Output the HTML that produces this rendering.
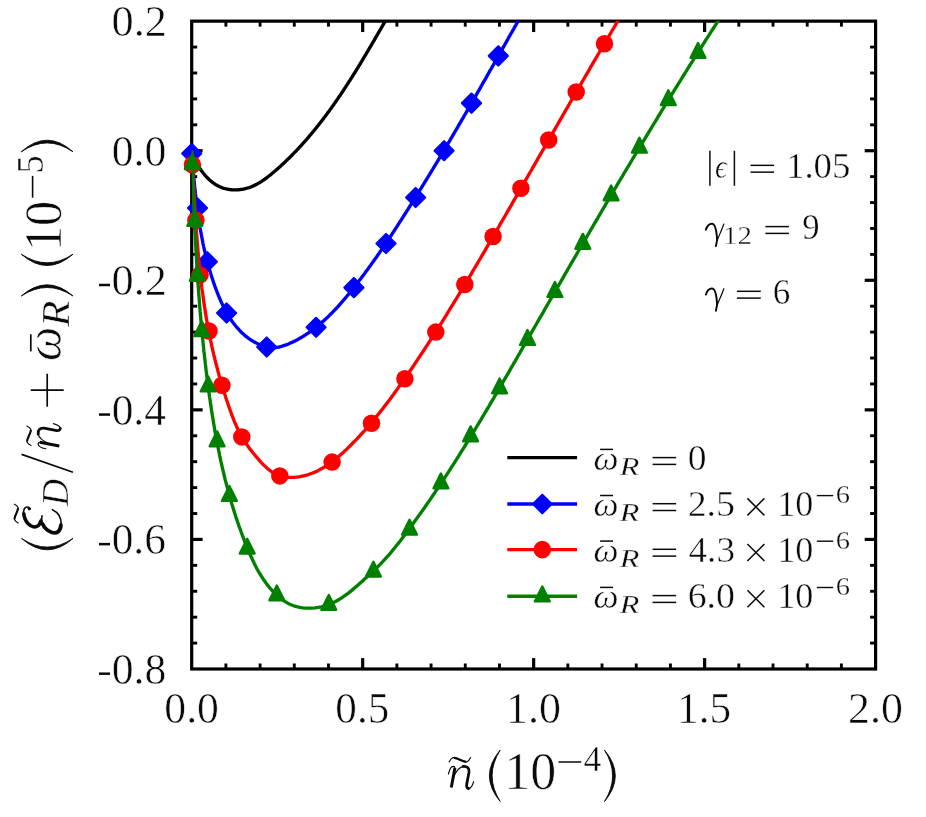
<!DOCTYPE html>
<html><head><meta charset="utf-8"><title>plot</title>
<style>
html,body{margin:0;padding:0;background:#fff;}
svg{display:block;}
text{font-family:"Liberation Serif",serif;}
svg{will-change:transform;}
</style></head>
<body>
<svg width="926" height="817" viewBox="0 0 926 817">
<rect x="0" y="0" width="926" height="817" fill="#ffffff"/>
<defs><clipPath id="ax"><rect x="191.7" y="20.75" width="683.9000000000001" height="648.25"/></clipPath></defs>
<line x1="225.89" y1="669.00" x2="225.89" y2="663.50" stroke="#000" stroke-width="2.9" stroke-linecap="butt"/>
<line x1="225.89" y1="21.15" x2="225.89" y2="26.65" stroke="#000" stroke-width="2.9" stroke-linecap="butt"/>
<line x1="260.09" y1="669.00" x2="260.09" y2="663.50" stroke="#000" stroke-width="2.9" stroke-linecap="butt"/>
<line x1="260.09" y1="21.15" x2="260.09" y2="26.65" stroke="#000" stroke-width="2.9" stroke-linecap="butt"/>
<line x1="294.29" y1="669.00" x2="294.29" y2="663.50" stroke="#000" stroke-width="2.9" stroke-linecap="butt"/>
<line x1="294.29" y1="21.15" x2="294.29" y2="26.65" stroke="#000" stroke-width="2.9" stroke-linecap="butt"/>
<line x1="328.48" y1="669.00" x2="328.48" y2="663.50" stroke="#000" stroke-width="2.9" stroke-linecap="butt"/>
<line x1="328.48" y1="21.15" x2="328.48" y2="26.65" stroke="#000" stroke-width="2.9" stroke-linecap="butt"/>
<line x1="362.68" y1="669.00" x2="362.68" y2="658.10" stroke="#000" stroke-width="3.2" stroke-linecap="butt"/>
<line x1="362.68" y1="21.15" x2="362.68" y2="32.05" stroke="#000" stroke-width="3.2" stroke-linecap="butt"/>
<line x1="396.87" y1="669.00" x2="396.87" y2="663.50" stroke="#000" stroke-width="2.9" stroke-linecap="butt"/>
<line x1="396.87" y1="21.15" x2="396.87" y2="26.65" stroke="#000" stroke-width="2.9" stroke-linecap="butt"/>
<line x1="431.07" y1="669.00" x2="431.07" y2="663.50" stroke="#000" stroke-width="2.9" stroke-linecap="butt"/>
<line x1="431.07" y1="21.15" x2="431.07" y2="26.65" stroke="#000" stroke-width="2.9" stroke-linecap="butt"/>
<line x1="465.26" y1="669.00" x2="465.26" y2="663.50" stroke="#000" stroke-width="2.9" stroke-linecap="butt"/>
<line x1="465.26" y1="21.15" x2="465.26" y2="26.65" stroke="#000" stroke-width="2.9" stroke-linecap="butt"/>
<line x1="499.46" y1="669.00" x2="499.46" y2="663.50" stroke="#000" stroke-width="2.9" stroke-linecap="butt"/>
<line x1="499.46" y1="21.15" x2="499.46" y2="26.65" stroke="#000" stroke-width="2.9" stroke-linecap="butt"/>
<line x1="533.65" y1="669.00" x2="533.65" y2="658.10" stroke="#000" stroke-width="3.2" stroke-linecap="butt"/>
<line x1="533.65" y1="21.15" x2="533.65" y2="32.05" stroke="#000" stroke-width="3.2" stroke-linecap="butt"/>
<line x1="567.85" y1="669.00" x2="567.85" y2="663.50" stroke="#000" stroke-width="2.9" stroke-linecap="butt"/>
<line x1="567.85" y1="21.15" x2="567.85" y2="26.65" stroke="#000" stroke-width="2.9" stroke-linecap="butt"/>
<line x1="602.04" y1="669.00" x2="602.04" y2="663.50" stroke="#000" stroke-width="2.9" stroke-linecap="butt"/>
<line x1="602.04" y1="21.15" x2="602.04" y2="26.65" stroke="#000" stroke-width="2.9" stroke-linecap="butt"/>
<line x1="636.24" y1="669.00" x2="636.24" y2="663.50" stroke="#000" stroke-width="2.9" stroke-linecap="butt"/>
<line x1="636.24" y1="21.15" x2="636.24" y2="26.65" stroke="#000" stroke-width="2.9" stroke-linecap="butt"/>
<line x1="670.43" y1="669.00" x2="670.43" y2="663.50" stroke="#000" stroke-width="2.9" stroke-linecap="butt"/>
<line x1="670.43" y1="21.15" x2="670.43" y2="26.65" stroke="#000" stroke-width="2.9" stroke-linecap="butt"/>
<line x1="704.62" y1="669.00" x2="704.62" y2="658.10" stroke="#000" stroke-width="3.2" stroke-linecap="butt"/>
<line x1="704.62" y1="21.15" x2="704.62" y2="32.05" stroke="#000" stroke-width="3.2" stroke-linecap="butt"/>
<line x1="738.82" y1="669.00" x2="738.82" y2="663.50" stroke="#000" stroke-width="2.9" stroke-linecap="butt"/>
<line x1="738.82" y1="21.15" x2="738.82" y2="26.65" stroke="#000" stroke-width="2.9" stroke-linecap="butt"/>
<line x1="773.02" y1="669.00" x2="773.02" y2="663.50" stroke="#000" stroke-width="2.9" stroke-linecap="butt"/>
<line x1="773.02" y1="21.15" x2="773.02" y2="26.65" stroke="#000" stroke-width="2.9" stroke-linecap="butt"/>
<line x1="807.21" y1="669.00" x2="807.21" y2="663.50" stroke="#000" stroke-width="2.9" stroke-linecap="butt"/>
<line x1="807.21" y1="21.15" x2="807.21" y2="26.65" stroke="#000" stroke-width="2.9" stroke-linecap="butt"/>
<line x1="841.41" y1="669.00" x2="841.41" y2="663.50" stroke="#000" stroke-width="2.9" stroke-linecap="butt"/>
<line x1="841.41" y1="21.15" x2="841.41" y2="26.65" stroke="#000" stroke-width="2.9" stroke-linecap="butt"/>
<line x1="191.70" y1="643.09" x2="197.20" y2="643.09" stroke="#000" stroke-width="2.9" stroke-linecap="butt"/>
<line x1="875.60" y1="643.09" x2="870.10" y2="643.09" stroke="#000" stroke-width="2.9" stroke-linecap="butt"/>
<line x1="191.70" y1="617.17" x2="197.20" y2="617.17" stroke="#000" stroke-width="2.9" stroke-linecap="butt"/>
<line x1="875.60" y1="617.17" x2="870.10" y2="617.17" stroke="#000" stroke-width="2.9" stroke-linecap="butt"/>
<line x1="191.70" y1="591.26" x2="197.20" y2="591.26" stroke="#000" stroke-width="2.9" stroke-linecap="butt"/>
<line x1="875.60" y1="591.26" x2="870.10" y2="591.26" stroke="#000" stroke-width="2.9" stroke-linecap="butt"/>
<line x1="191.70" y1="565.34" x2="197.20" y2="565.34" stroke="#000" stroke-width="2.9" stroke-linecap="butt"/>
<line x1="875.60" y1="565.34" x2="870.10" y2="565.34" stroke="#000" stroke-width="2.9" stroke-linecap="butt"/>
<line x1="191.70" y1="539.43" x2="202.60" y2="539.43" stroke="#000" stroke-width="3.2" stroke-linecap="butt"/>
<line x1="875.60" y1="539.43" x2="864.70" y2="539.43" stroke="#000" stroke-width="3.2" stroke-linecap="butt"/>
<line x1="191.70" y1="513.52" x2="197.20" y2="513.52" stroke="#000" stroke-width="2.9" stroke-linecap="butt"/>
<line x1="875.60" y1="513.52" x2="870.10" y2="513.52" stroke="#000" stroke-width="2.9" stroke-linecap="butt"/>
<line x1="191.70" y1="487.60" x2="197.20" y2="487.60" stroke="#000" stroke-width="2.9" stroke-linecap="butt"/>
<line x1="875.60" y1="487.60" x2="870.10" y2="487.60" stroke="#000" stroke-width="2.9" stroke-linecap="butt"/>
<line x1="191.70" y1="461.69" x2="197.20" y2="461.69" stroke="#000" stroke-width="2.9" stroke-linecap="butt"/>
<line x1="875.60" y1="461.69" x2="870.10" y2="461.69" stroke="#000" stroke-width="2.9" stroke-linecap="butt"/>
<line x1="191.70" y1="435.77" x2="197.20" y2="435.77" stroke="#000" stroke-width="2.9" stroke-linecap="butt"/>
<line x1="875.60" y1="435.77" x2="870.10" y2="435.77" stroke="#000" stroke-width="2.9" stroke-linecap="butt"/>
<line x1="191.70" y1="409.86" x2="202.60" y2="409.86" stroke="#000" stroke-width="3.2" stroke-linecap="butt"/>
<line x1="875.60" y1="409.86" x2="864.70" y2="409.86" stroke="#000" stroke-width="3.2" stroke-linecap="butt"/>
<line x1="191.70" y1="383.95" x2="197.20" y2="383.95" stroke="#000" stroke-width="2.9" stroke-linecap="butt"/>
<line x1="875.60" y1="383.95" x2="870.10" y2="383.95" stroke="#000" stroke-width="2.9" stroke-linecap="butt"/>
<line x1="191.70" y1="358.03" x2="197.20" y2="358.03" stroke="#000" stroke-width="2.9" stroke-linecap="butt"/>
<line x1="875.60" y1="358.03" x2="870.10" y2="358.03" stroke="#000" stroke-width="2.9" stroke-linecap="butt"/>
<line x1="191.70" y1="332.12" x2="197.20" y2="332.12" stroke="#000" stroke-width="2.9" stroke-linecap="butt"/>
<line x1="875.60" y1="332.12" x2="870.10" y2="332.12" stroke="#000" stroke-width="2.9" stroke-linecap="butt"/>
<line x1="191.70" y1="306.20" x2="197.20" y2="306.20" stroke="#000" stroke-width="2.9" stroke-linecap="butt"/>
<line x1="875.60" y1="306.20" x2="870.10" y2="306.20" stroke="#000" stroke-width="2.9" stroke-linecap="butt"/>
<line x1="191.70" y1="280.29" x2="202.60" y2="280.29" stroke="#000" stroke-width="3.2" stroke-linecap="butt"/>
<line x1="875.60" y1="280.29" x2="864.70" y2="280.29" stroke="#000" stroke-width="3.2" stroke-linecap="butt"/>
<line x1="191.70" y1="254.38" x2="197.20" y2="254.38" stroke="#000" stroke-width="2.9" stroke-linecap="butt"/>
<line x1="875.60" y1="254.38" x2="870.10" y2="254.38" stroke="#000" stroke-width="2.9" stroke-linecap="butt"/>
<line x1="191.70" y1="228.46" x2="197.20" y2="228.46" stroke="#000" stroke-width="2.9" stroke-linecap="butt"/>
<line x1="875.60" y1="228.46" x2="870.10" y2="228.46" stroke="#000" stroke-width="2.9" stroke-linecap="butt"/>
<line x1="191.70" y1="202.55" x2="197.20" y2="202.55" stroke="#000" stroke-width="2.9" stroke-linecap="butt"/>
<line x1="875.60" y1="202.55" x2="870.10" y2="202.55" stroke="#000" stroke-width="2.9" stroke-linecap="butt"/>
<line x1="191.70" y1="176.63" x2="197.20" y2="176.63" stroke="#000" stroke-width="2.9" stroke-linecap="butt"/>
<line x1="875.60" y1="176.63" x2="870.10" y2="176.63" stroke="#000" stroke-width="2.9" stroke-linecap="butt"/>
<line x1="191.70" y1="150.72" x2="202.60" y2="150.72" stroke="#000" stroke-width="3.2" stroke-linecap="butt"/>
<line x1="875.60" y1="150.72" x2="864.70" y2="150.72" stroke="#000" stroke-width="3.2" stroke-linecap="butt"/>
<line x1="191.70" y1="124.81" x2="197.20" y2="124.81" stroke="#000" stroke-width="2.9" stroke-linecap="butt"/>
<line x1="875.60" y1="124.81" x2="870.10" y2="124.81" stroke="#000" stroke-width="2.9" stroke-linecap="butt"/>
<line x1="191.70" y1="98.89" x2="197.20" y2="98.89" stroke="#000" stroke-width="2.9" stroke-linecap="butt"/>
<line x1="875.60" y1="98.89" x2="870.10" y2="98.89" stroke="#000" stroke-width="2.9" stroke-linecap="butt"/>
<line x1="191.70" y1="72.98" x2="197.20" y2="72.98" stroke="#000" stroke-width="2.9" stroke-linecap="butt"/>
<line x1="875.60" y1="72.98" x2="870.10" y2="72.98" stroke="#000" stroke-width="2.9" stroke-linecap="butt"/>
<line x1="191.70" y1="47.06" x2="197.20" y2="47.06" stroke="#000" stroke-width="2.9" stroke-linecap="butt"/>
<line x1="875.60" y1="47.06" x2="870.10" y2="47.06" stroke="#000" stroke-width="2.9" stroke-linecap="butt"/>
<rect x="191.7" y="21.15" width="683.9000000000001" height="647.85" fill="none" stroke="#000" stroke-width="3.2"/>
<path d="M191.7,150.9 L191.9,151.6 L192.2,152.3 L192.4,153.0 L192.7,153.7 L192.9,154.4 L193.2,155.1 L193.5,155.8 L193.8,156.5 L194.1,157.2 L194.4,157.9 L194.7,158.6 L195.0,159.3 L195.3,160.0 L195.6,160.6 L196.0,161.3 L196.3,162.0 L196.7,162.7 L197.0,163.4 L197.4,164.1 L197.8,164.8 L198.2,165.4 L198.5,166.1 L198.9,166.8 L199.3,167.4 L199.7,168.1 L200.2,168.8 L200.6,169.4 L201.0,170.1 L201.5,170.7 L201.9,171.3 L202.4,172.0 L202.9,172.6 L203.3,173.2 L203.8,173.8 L204.3,174.4 L204.8,175.0 L205.3,175.6 L205.8,176.2 L206.3,176.8 L206.9,177.3 L207.4,177.9 L208.0,178.4 L208.5,179.0 L209.1,179.5 L209.6,180.0 L210.2,180.5 L210.8,181.0 L211.4,181.5 L212.0,182.0 L212.6,182.4 L213.2,182.9 L213.8,183.3 L214.4,183.8 L215.1,184.2 L215.7,184.6 L216.4,185.0 L217.0,185.4 L217.7,185.7 L218.4,186.1 L219.0,186.4 L219.7,186.7 L220.4,187.0 L221.1,187.3 L221.8,187.6 L222.5,187.9 L223.2,188.1 L224.0,188.3 L224.7,188.5 L225.4,188.7 L226.2,188.9 L226.9,189.1 L227.7,189.2 L228.4,189.4 L229.2,189.5 L230.0,189.6 L230.7,189.7 L231.5,189.7 L232.3,189.8 L233.1,189.8 L233.8,189.9 L234.6,189.9 L235.4,189.9 L236.2,189.9 L236.9,189.8 L237.7,189.8 L238.5,189.7 L239.3,189.7 L240.0,189.6 L240.8,189.5 L241.6,189.4 L242.3,189.3 L243.1,189.1 L243.9,189.0 L244.6,188.8 L245.4,188.6 L246.1,188.4 L246.9,188.2 L247.6,188.0 L248.3,187.8 L249.0,187.6 L249.8,187.3 L250.5,187.1 L251.2,186.8 L251.9,186.5 L252.6,186.2 L253.3,185.9 L254.0,185.6 L254.7,185.3 L255.3,184.9 L256.0,184.6 L256.7,184.3 L257.4,183.9 L258.0,183.5 L258.7,183.1 L259.3,182.8 L260.0,182.4 L260.6,182.0 L261.3,181.6 L261.9,181.2 L262.6,180.7 L263.2,180.3 L263.8,179.9 L264.4,179.4 L265.1,179.0 L265.7,178.5 L266.3,178.1 L266.9,177.6 L267.5,177.2 L268.1,176.7 L268.7,176.2 L269.4,175.7 L270.0,175.2 L270.6,174.8 L271.2,174.3 L271.7,173.8 L272.3,173.3 L272.9,172.8 L273.5,172.3 L274.1,171.8 L274.7,171.3 L275.3,170.8 L275.9,170.3 L276.4,169.8 L277.0,169.3 L277.6,168.7 L278.2,168.2 L278.8,167.7 L279.3,167.2 L279.9,166.7 L280.5,166.2 L281.0,165.7 L281.6,165.1 L282.2,164.6 L282.7,164.1 L283.3,163.6 L283.9,163.1 L284.4,162.5 L285.0,162.0 L285.5,161.5 L286.1,160.9 L286.6,160.4 L287.2,159.9 L287.7,159.3 L288.3,158.8 L288.8,158.3 L289.4,157.7 L289.9,157.2 L290.5,156.7 L291.0,156.1 L291.6,155.6 L292.1,155.0 L292.6,154.5 L293.2,153.9 L293.7,153.4 L294.2,152.8 L294.8,152.3 L295.3,151.7 L295.8,151.2 L296.4,150.6 L296.9,150.1 L297.4,149.5 L297.9,149.0 L298.5,148.4 L299.0,147.8 L299.5,147.3 L300.0,146.7 L300.5,146.2 L301.1,145.6 L301.6,145.0 L302.1,144.5 L302.6,143.9 L303.1,143.3 L303.6,142.8 L304.1,142.2 L304.6,141.6 L305.1,141.0 L305.7,140.5 L306.2,139.9 L306.7,139.3 L307.2,138.7 L307.7,138.2 L308.2,137.6 L308.7,137.0 L309.2,136.4 L309.6,135.8 L310.1,135.3 L310.6,134.7 L311.1,134.1 L311.6,133.5 L312.1,132.9 L312.6,132.3 L313.1,131.7 L313.6,131.1 L314.0,130.6 L314.5,130.0 L315.0,129.4 L315.5,128.8 L316.0,128.2 L316.5,127.6 L316.9,127.0 L317.4,126.4 L317.9,125.8 L318.4,125.2 L318.8,124.6 L319.3,124.0 L319.8,123.4 L320.2,122.8 L320.7,122.2 L321.2,121.6 L321.6,121.0 L322.1,120.4 L322.6,119.8 L323.0,119.2 L323.5,118.5 L324.0,117.9 L324.4,117.3 L324.9,116.7 L325.3,116.1 L325.8,115.5 L326.3,114.9 L326.7,114.3 L327.2,113.6 L327.6,113.0 L328.1,112.4 L328.5,111.8 L329.0,111.2 L329.4,110.6 L329.9,109.9 L330.3,109.3 L330.8,108.7 L331.2,108.1 L331.7,107.5 L332.1,106.8 L332.6,106.2 L333.0,105.6 L333.4,105.0 L333.9,104.3 L334.3,103.7 L334.8,103.1 L335.2,102.4 L335.6,101.8 L336.1,101.2 L336.5,100.6 L336.9,99.9 L337.4,99.3 L337.8,98.7 L338.2,98.0 L338.7,97.4 L339.1,96.8 L339.5,96.1 L340.0,95.5 L340.4,94.9 L340.8,94.2 L341.3,93.6 L341.7,92.9 L342.1,92.3 L342.5,91.7 L343.0,91.0 L343.4,90.4 L343.8,89.8 L344.2,89.1 L344.6,88.5 L345.1,87.8 L345.5,87.2 L345.9,86.5 L346.3,85.9 L346.7,85.3 L347.2,84.6 L347.6,84.0 L348.0,83.3 L348.4,82.7 L348.8,82.0 L349.2,81.4 L349.6,80.7 L350.1,80.1 L350.5,79.4 L350.9,78.8 L351.3,78.2 L351.7,77.5 L352.1,76.9 L352.5,76.2 L352.9,75.6 L353.3,74.9 L353.7,74.3 L354.1,73.6 L354.6,73.0 L355.0,72.3 L355.4,71.6 L355.8,71.0 L356.2,70.3 L356.6,69.7 L357.0,69.0 L357.4,68.4 L357.8,67.7 L358.2,67.1 L358.6,66.4 L359.0,65.8 L359.4,65.1 L359.8,64.5 L360.2,63.8 L360.6,63.1 L361.0,62.5 L361.4,61.8 L361.8,61.2 L362.2,60.5 L362.6,59.9 L363.0,59.2 L363.3,58.5 L363.7,57.9 L364.1,57.2 L364.5,56.6 L364.9,55.9 L365.3,55.2 L365.7,54.6 L366.1,53.9 L366.5,53.3 L366.9,52.6 L367.3,51.9 L367.7,51.3 L368.1,50.6 L368.4,50.0 L368.8,49.3 L369.2,48.6 L369.6,48.0 L370.0,47.3 L370.4,46.7 L370.8,46.0 L371.2,45.3 L371.6,44.7 L371.9,44.0 L372.3,43.4 L372.7,42.7 L373.1,42.0 L373.5,41.4 L373.9,40.7 L374.3,40.1 L374.6,39.4 L375.0,38.7 L375.4,38.1 L375.8,37.4 L376.2,36.7 L376.6,36.1 L376.9,35.4 L377.3,34.8 L377.7,34.1 L378.1,33.4 L378.5,32.8 L378.9,32.1 L379.2,31.5 L379.6,30.8 L380.0,30.1 L380.4,29.5 L380.8,28.8 L381.2,28.1 L381.5,27.5 L381.9,26.8 L382.3,26.2 L382.7,25.5 L383.1,24.8 L383.4,24.2 L383.8,23.5 L384.2,22.9 L384.6,22.2 L385.0,21.5 L385.3,20.9 L385.7,20.2 L386.1,19.6 L386.5,18.9 L386.9,18.2 L387.2,17.6 L387.6,16.9 L388.0,16.3 L388.4,15.6 L388.8,14.9 L389.1,14.3 L389.5,13.6 L389.9,13.0 L390.3,12.3 L390.7,11.7" fill="none" stroke="#000000" stroke-width="3.35" stroke-linejoin="round" clip-path="url(#ax)"/>
<path d="M191.6,150.8 L191.7,152.4 L191.9,154.1 L192.0,155.7 L192.1,157.4 L192.3,159.0 L192.4,160.7 L192.5,162.3 L192.7,163.9 L192.8,165.6 L192.9,167.2 L193.1,168.9 L193.2,170.5 L193.4,172.2 L193.5,173.8 L193.7,175.4 L193.8,177.1 L194.0,178.7 L194.1,180.4 L194.3,182.0 L194.4,183.6 L194.6,185.3 L194.7,186.9 L194.9,188.5 L195.1,190.2 L195.3,191.8 L195.4,193.4 L195.6,195.1 L195.8,196.7 L196.0,198.3 L196.2,200.0 L196.4,201.6 L196.5,203.2 L196.7,204.8 L197.0,206.5 L197.2,208.1 L197.4,209.7 L197.6,211.3 L197.8,213.0 L198.0,214.6 L198.3,216.2 L198.5,217.8 L198.7,219.4 L199.0,221.1 L199.2,222.7 L199.5,224.3 L199.8,225.9 L200.0,227.5 L200.3,229.1 L200.6,230.7 L200.9,232.3 L201.2,233.9 L201.5,235.6 L201.8,237.2 L202.1,238.8 L202.4,240.4 L202.7,242.0 L203.0,243.6 L203.4,245.2 L203.7,246.8 L204.1,248.4 L204.4,250.0 L204.8,251.6 L205.2,253.2 L205.5,254.7 L205.9,256.3 L206.3,257.9 L206.7,259.5 L207.1,261.1 L207.6,262.7 L208.0,264.3 L208.4,265.9 L208.9,267.4 L209.3,269.0 L209.8,270.6 L210.3,272.2 L210.8,273.8 L211.2,275.3 L211.7,276.9 L212.3,278.5 L212.8,280.1 L213.3,281.6 L213.8,283.2 L214.4,284.8 L214.9,286.3 L215.5,287.9 L216.1,289.5 L216.7,291.0 L217.3,292.6 L217.9,294.1 L218.5,295.7 L219.2,297.2 L219.8,298.8 L220.5,300.3 L221.1,301.8 L221.8,303.3 L222.6,304.8 L223.3,306.3 L224.0,307.8 L224.8,309.3 L225.6,310.8 L226.4,312.2 L227.2,313.6 L228.0,315.0 L228.9,316.4 L229.7,317.8 L230.6,319.2 L231.6,320.5 L232.5,321.9 L233.5,323.2 L234.5,324.5 L235.5,325.8 L236.5,327.0 L237.6,328.2 L238.7,329.4 L239.8,330.6 L240.9,331.8 L242.1,332.9 L243.3,334.0 L244.5,335.1 L245.7,336.1 L247.0,337.1 L248.3,338.1 L249.7,339.1 L251.0,340.0 L252.5,340.9 L253.9,341.7 L255.3,342.5 L256.8,343.3 L258.3,344.0 L259.9,344.7 L261.4,345.3 L263.0,345.9 L264.6,346.3 L266.1,346.8 L267.7,347.1 L269.3,347.3 L270.9,347.5 L272.6,347.6 L274.2,347.6 L275.8,347.5 L277.4,347.3 L279.0,347.0 L280.6,346.6 L282.1,346.2 L283.7,345.7 L285.3,345.2 L286.8,344.6 L288.4,344.0 L289.9,343.3 L291.4,342.6 L293.0,341.9 L294.4,341.2 L295.9,340.4 L297.4,339.7 L298.8,338.9 L300.3,338.0 L301.7,337.2 L303.1,336.4 L304.5,335.5 L305.9,334.6 L307.2,333.7 L308.6,332.8 L309.9,331.8 L311.3,330.9 L312.6,329.9 L313.9,328.9 L315.2,327.9 L316.5,326.9 L317.8,325.9 L319.0,324.9 L320.3,323.8 L321.5,322.7 L322.7,321.6 L324.0,320.6 L325.2,319.4 L326.4,318.3 L327.6,317.2 L328.7,316.1 L329.9,314.9 L331.1,313.7 L332.2,312.6 L333.4,311.4 L334.5,310.2 L335.7,309.0 L336.8,307.8 L337.9,306.6 L339.0,305.3 L340.1,304.1 L341.2,302.9 L342.3,301.6 L343.4,300.4 L344.4,299.1 L345.5,297.8 L346.6,296.6 L347.6,295.3 L348.7,294.0 L349.7,292.7 L350.8,291.4 L351.8,290.1 L352.8,288.9 L353.8,287.6 L354.9,286.3 L355.9,285.0 L356.9,283.7 L357.9,282.3 L358.9,281.0 L359.9,279.7 L360.9,278.4 L361.9,277.1 L362.9,275.8 L363.9,274.5 L364.9,273.1 L365.8,271.8 L366.8,270.5 L367.8,269.2 L368.7,267.8 L369.7,266.5 L370.7,265.2 L371.6,263.8 L372.6,262.5 L373.5,261.2 L374.5,259.8 L375.4,258.5 L376.4,257.2 L377.3,255.8 L378.2,254.5 L379.2,253.1 L380.1,251.8 L381.0,250.4 L382.0,249.1 L382.9,247.7 L383.8,246.4 L384.7,245.0 L385.6,243.6 L386.5,242.3 L387.5,240.9 L388.4,239.6 L389.3,238.2 L390.2,236.8 L391.1,235.5 L392.0,234.1 L392.9,232.7 L393.8,231.4 L394.7,230.0 L395.6,228.6 L396.5,227.2 L397.4,225.9 L398.2,224.5 L399.1,223.1 L400.0,221.7 L400.9,220.4 L401.8,219.0 L402.7,217.6 L403.6,216.2 L404.4,214.8 L405.3,213.5 L406.2,212.1 L407.1,210.7 L408.0,209.3 L408.8,207.9 L409.7,206.5 L410.6,205.1 L411.5,203.8 L412.3,202.4 L413.2,201.0 L414.1,199.6 L414.9,198.2 L415.8,196.8 L416.7,195.4 L417.6,194.0 L418.4,192.6 L419.3,191.2 L420.1,189.8 L421.0,188.4 L421.9,187.0 L422.7,185.6 L423.6,184.2 L424.4,182.8 L425.3,181.4 L426.2,180.0 L427.0,178.6 L427.9,177.2 L428.7,175.8 L429.6,174.4 L430.4,173.0 L431.3,171.6 L432.1,170.2 L433.0,168.8 L433.8,167.4 L434.7,166.0 L435.5,164.6 L436.4,163.2 L437.2,161.8 L438.1,160.3 L438.9,158.9 L439.8,157.5 L440.6,156.1 L441.4,154.7 L442.3,153.3 L443.1,151.9 L444.0,150.5 L444.8,149.0 L445.6,147.6 L446.5,146.2 L447.3,144.8 L448.1,143.4 L449.0,142.0 L449.8,140.6 L450.6,139.1 L451.5,137.7 L452.3,136.3 L453.1,134.9 L454.0,133.5 L454.8,132.0 L455.6,130.6 L456.5,129.2 L457.3,127.8 L458.1,126.4 L458.9,124.9 L459.8,123.5 L460.6,122.1 L461.4,120.7 L462.3,119.2 L463.1,117.8 L463.9,116.4 L464.7,115.0 L465.5,113.6 L466.4,112.1 L467.2,110.7 L468.0,109.3 L468.8,107.9 L469.7,106.4 L470.5,105.0 L471.3,103.6 L472.1,102.1 L472.9,100.7 L473.8,99.3 L474.6,97.9 L475.4,96.4 L476.2,95.0 L477.0,93.6 L477.8,92.2 L478.7,90.7 L479.5,89.3 L480.3,87.9 L481.1,86.4 L481.9,85.0 L482.7,83.6 L483.5,82.2 L484.4,80.7 L485.2,79.3 L486.0,77.9 L486.8,76.4 L487.6,75.0 L488.4,73.6 L489.2,72.1 L490.0,70.7 L490.8,69.3 L491.7,67.9 L492.5,66.4 L493.3,65.0 L494.1,63.6 L494.9,62.1 L495.7,60.7 L496.5,59.3 L497.3,57.8 L498.1,56.4 L498.9,55.0 L499.7,53.6 L500.6,52.1 L501.4,50.7 L502.2,49.3 L503.0,47.8 L503.8,46.4 L504.6,45.0 L505.4,43.5 L506.2,42.1 L507.0,40.7 L507.8,39.3 L508.6,37.8 L509.4,36.4 L510.2,35.0 L511.0,33.5 L511.9,32.1 L512.7,30.7 L513.5,29.3 L514.3,27.8 L515.1,26.4 L515.9,25.0 L516.7,23.5 L517.5,22.1 L518.3,20.7 L519.1,19.3 L519.9,17.8 L520.7,16.4 L521.5,15.0 L522.3,13.6 L523.1,12.1 L523.9,10.7" fill="none" stroke="#0000ff" stroke-width="3.35" stroke-linejoin="round" clip-path="url(#ax)"/>
<path d="M191.8,144.0 L201.2,153.5 L191.8,163.0 L182.2,153.5 Z" fill="#0000ff" stroke="#0000ff" stroke-width="2.2" stroke-linejoin="round"/>
<path d="M197.5,198.5 L207.0,208.0 L197.5,217.5 L188.0,208.0 Z" fill="#0000ff" stroke="#0000ff" stroke-width="2.2" stroke-linejoin="round"/>
<path d="M207.3,252.2 L216.8,261.7 L207.3,271.2 L197.8,261.7 Z" fill="#0000ff" stroke="#0000ff" stroke-width="2.2" stroke-linejoin="round"/>
<path d="M226.6,303.5 L236.1,313.0 L226.6,322.5 L217.1,313.0 Z" fill="#0000ff" stroke="#0000ff" stroke-width="2.2" stroke-linejoin="round"/>
<path d="M266.7,337.5 L276.2,347.0 L266.7,356.5 L257.2,347.0 Z" fill="#0000ff" stroke="#0000ff" stroke-width="2.2" stroke-linejoin="round"/>
<path d="M316.1,317.8 L325.6,327.3 L316.1,336.8 L306.6,327.3 Z" fill="#0000ff" stroke="#0000ff" stroke-width="2.2" stroke-linejoin="round"/>
<path d="M353.9,278.1 L363.4,287.6 L353.9,297.1 L344.4,287.6 Z" fill="#0000ff" stroke="#0000ff" stroke-width="2.2" stroke-linejoin="round"/>
<path d="M386.0,234.0 L395.5,243.5 L386.0,253.0 L376.5,243.5 Z" fill="#0000ff" stroke="#0000ff" stroke-width="2.2" stroke-linejoin="round"/>
<path d="M415.6,188.0 L425.1,197.5 L415.6,207.0 L406.1,197.5 Z" fill="#0000ff" stroke="#0000ff" stroke-width="2.2" stroke-linejoin="round"/>
<path d="M444.1,141.2 L453.6,150.7 L444.1,160.2 L434.6,150.7 Z" fill="#0000ff" stroke="#0000ff" stroke-width="2.2" stroke-linejoin="round"/>
<path d="M471.5,93.6 L481.0,103.1 L471.5,112.6 L462.0,103.1 Z" fill="#0000ff" stroke="#0000ff" stroke-width="2.2" stroke-linejoin="round"/>
<path d="M498.3,46.4 L507.8,55.9 L498.3,65.4 L488.8,55.9 Z" fill="#0000ff" stroke="#0000ff" stroke-width="2.2" stroke-linejoin="round"/>
<path d="M191.7,150.8 L191.8,153.2 L192.0,155.5 L192.1,157.9 L192.2,160.2 L192.3,162.6 L192.5,164.9 L192.6,167.3 L192.7,169.7 L192.9,172.0 L193.0,174.4 L193.1,176.7 L193.2,179.1 L193.4,181.4 L193.5,183.8 L193.6,186.2 L193.8,188.5 L193.9,190.9 L194.0,193.2 L194.2,195.6 L194.3,198.0 L194.4,200.3 L194.6,202.7 L194.7,205.0 L194.9,207.4 L195.0,209.8 L195.1,212.1 L195.3,214.5 L195.4,216.8 L195.6,219.2 L195.8,221.5 L195.9,223.9 L196.1,226.3 L196.2,228.6 L196.4,231.0 L196.6,233.3 L196.8,235.7 L196.9,238.0 L197.1,240.4 L197.3,242.8 L197.5,245.1 L197.7,247.5 L197.9,249.8 L198.1,252.2 L198.3,254.5 L198.5,256.9 L198.8,259.2 L199.0,261.6 L199.2,263.9 L199.5,266.3 L199.7,268.6 L199.9,271.0 L200.2,273.3 L200.5,275.7 L200.7,278.0 L201.0,280.4 L201.3,282.7 L201.6,285.0 L201.8,287.4 L202.1,289.7 L202.5,292.1 L202.8,294.4 L203.1,296.7 L203.4,299.1 L203.7,301.4 L204.1,303.7 L204.4,306.1 L204.8,308.4 L205.2,310.7 L205.5,313.1 L205.9,315.4 L206.3,317.7 L206.7,320.1 L207.1,322.4 L207.5,324.7 L208.0,327.0 L208.4,329.3 L208.8,331.7 L209.3,334.0 L209.8,336.3 L210.2,338.6 L210.7,340.9 L211.2,343.2 L211.7,345.6 L212.2,347.9 L212.7,350.2 L213.3,352.5 L213.8,354.8 L214.4,357.1 L214.9,359.4 L215.5,361.7 L216.1,364.0 L216.7,366.2 L217.3,368.5 L217.9,370.8 L218.5,373.1 L219.1,375.4 L219.8,377.7 L220.4,379.9 L221.1,382.2 L221.8,384.5 L222.4,386.7 L223.1,389.0 L223.8,391.3 L224.5,393.5 L225.3,395.8 L226.0,398.0 L226.7,400.3 L227.5,402.5 L228.3,404.8 L229.0,407.0 L229.8,409.2 L230.6,411.4 L231.4,413.7 L232.2,415.9 L233.1,418.1 L233.9,420.3 L234.8,422.5 L235.8,424.6 L236.7,426.8 L237.7,428.9 L238.7,431.0 L239.8,433.1 L240.9,435.2 L242.0,437.2 L243.2,439.2 L244.5,441.2 L245.8,443.2 L247.1,445.1 L248.5,447.0 L249.9,448.9 L251.4,450.8 L252.9,452.7 L254.4,454.5 L255.9,456.4 L257.5,458.2 L259.1,460.1 L260.7,461.9 L262.4,463.7 L264.1,465.4 L265.9,467.1 L267.7,468.7 L269.5,470.2 L271.4,471.6 L273.4,472.9 L275.4,474.0 L277.6,475.0 L279.8,475.8 L282.1,476.4 L284.4,476.9 L286.8,477.2 L289.2,477.3 L291.6,477.3 L294.0,477.3 L296.4,477.1 L298.7,476.8 L301.0,476.4 L303.3,476.0 L305.5,475.4 L307.7,474.8 L309.9,474.0 L312.1,473.2 L314.2,472.4 L316.3,471.4 L318.4,470.4 L320.4,469.3 L322.4,468.2 L324.4,467.0 L326.4,465.7 L328.4,464.4 L330.3,463.0 L332.2,461.6 L334.1,460.2 L336.0,458.7 L337.8,457.2 L339.7,455.6 L341.5,454.0 L343.3,452.4 L345.0,450.8 L346.8,449.1 L348.5,447.4 L350.2,445.7 L351.9,444.0 L353.6,442.3 L355.3,440.6 L357.0,438.9 L358.6,437.1 L360.2,435.4 L361.8,433.6 L363.4,431.8 L365.0,430.1 L366.6,428.3 L368.1,426.5 L369.7,424.7 L371.2,422.9 L372.7,421.1 L374.2,419.3 L375.7,417.5 L377.2,415.6 L378.7,413.8 L380.2,411.9 L381.6,410.1 L383.1,408.2 L384.5,406.4 L385.9,404.5 L387.4,402.6 L388.8,400.8 L390.2,398.9 L391.6,397.0 L393.0,395.1 L394.3,393.2 L395.7,391.3 L397.1,389.4 L398.4,387.5 L399.8,385.6 L401.2,383.7 L402.5,381.7 L403.9,379.8 L405.2,377.9 L406.5,376.0 L407.9,374.0 L409.2,372.1 L410.5,370.2 L411.9,368.2 L413.2,366.3 L414.5,364.3 L415.8,362.4 L417.1,360.4 L418.4,358.4 L419.7,356.5 L421.0,354.5 L422.3,352.6 L423.6,350.6 L424.9,348.6 L426.2,346.6 L427.5,344.7 L428.8,342.7 L430.1,340.7 L431.3,338.7 L432.6,336.7 L433.9,334.8 L435.2,332.8 L436.4,330.8 L437.7,328.8 L439.0,326.8 L440.2,324.8 L441.5,322.8 L442.7,320.8 L444.0,318.8 L445.2,316.8 L446.5,314.8 L447.7,312.7 L449.0,310.7 L450.2,308.7 L451.4,306.7 L452.7,304.7 L453.9,302.7 L455.1,300.6 L456.4,298.6 L457.6,296.6 L458.8,294.6 L460.0,292.6 L461.3,290.5 L462.5,288.5 L463.7,286.5 L464.9,284.4 L466.1,282.4 L467.3,280.4 L468.6,278.3 L469.8,276.3 L471.0,274.3 L472.2,272.2 L473.4,270.2 L474.6,268.2 L475.8,266.1 L477.0,264.1 L478.2,262.0 L479.4,260.0 L480.6,258.0 L481.8,255.9 L483.0,253.9 L484.2,251.8 L485.4,249.8 L486.6,247.7 L487.8,245.7 L489.0,243.6 L490.1,241.6 L491.3,239.6 L492.5,237.5 L493.7,235.5 L494.9,233.4 L496.1,231.4 L497.3,229.3 L498.5,227.3 L499.6,225.2 L500.8,223.2 L502.0,221.1 L503.2,219.1 L504.4,217.1 L505.6,215.0 L506.7,213.0 L507.9,210.9 L509.1,208.9 L510.3,206.8 L511.5,204.8 L512.6,202.7 L513.8,200.7 L515.0,198.6 L516.2,196.6 L517.3,194.5 L518.5,192.5 L519.7,190.4 L520.9,188.4 L522.1,186.4 L523.2,184.3 L524.4,182.3 L525.6,180.2 L526.8,178.2 L527.9,176.1 L529.1,174.1 L530.3,172.0 L531.5,170.0 L532.6,167.9 L533.8,165.9 L535.0,163.8 L536.2,161.8 L537.3,159.7 L538.5,157.7 L539.7,155.7 L540.8,153.6 L542.0,151.6 L543.2,149.5 L544.4,147.5 L545.5,145.4 L546.7,143.4 L547.9,141.3 L549.1,139.3 L550.2,137.2 L551.4,135.2 L552.6,133.1 L553.8,131.1 L554.9,129.1 L556.1,127.0 L557.3,125.0 L558.5,122.9 L559.6,120.9 L560.8,118.8 L562.0,116.8 L563.2,114.7 L564.3,112.7 L565.5,110.6 L566.7,108.6 L567.9,106.6 L569.1,104.5 L570.2,102.5 L571.4,100.4 L572.6,98.4 L573.8,96.3 L574.9,94.3 L576.1,92.3 L577.3,90.2 L578.5,88.2 L579.7,86.1 L580.9,84.1 L582.0,82.0 L583.2,80.0 L584.4,78.0 L585.6,75.9 L586.8,73.9 L588.0,71.8 L589.2,69.8 L590.3,67.7 L591.5,65.7 L592.7,63.7 L593.9,61.6 L595.1,59.6 L596.3,57.5 L597.5,55.5 L598.7,53.5 L599.9,51.4 L601.1,49.4 L602.3,47.3 L603.5,45.3 L604.7,43.3 L605.9,41.2 L607.1,39.2 L608.3,37.2 L609.5,35.1 L610.7,33.1 L611.9,31.0 L613.1,29.0 L614.3,27.0 L615.5,24.9 L616.7,22.9 L617.9,20.9 L619.1,18.8 L620.3,16.8 L621.5,14.8 L622.7,12.7 L624.0,10.7" fill="none" stroke="#ff0000" stroke-width="3.35" stroke-linejoin="round" clip-path="url(#ax)"/>
<circle cx="192.4" cy="164.8" r="8.75" fill="#ff0000"/>
<circle cx="195.9" cy="220.2" r="8.75" fill="#ff0000"/>
<circle cx="200.0" cy="274.9" r="8.75" fill="#ff0000"/>
<circle cx="209.0" cy="331.0" r="8.75" fill="#ff0000"/>
<circle cx="221.9" cy="385.3" r="8.75" fill="#ff0000"/>
<circle cx="241.8" cy="436.9" r="8.75" fill="#ff0000"/>
<circle cx="279.8" cy="475.9" r="8.75" fill="#ff0000"/>
<circle cx="332.1" cy="462.1" r="8.75" fill="#ff0000"/>
<circle cx="371.5" cy="423.2" r="8.75" fill="#ff0000"/>
<circle cx="404.9" cy="378.7" r="8.75" fill="#ff0000"/>
<circle cx="435.8" cy="332.1" r="8.75" fill="#ff0000"/>
<circle cx="464.8" cy="284.5" r="8.75" fill="#ff0000"/>
<circle cx="493.1" cy="236.5" r="8.75" fill="#ff0000"/>
<circle cx="520.9" cy="188.3" r="8.75" fill="#ff0000"/>
<circle cx="548.7" cy="140.0" r="8.75" fill="#ff0000"/>
<circle cx="576.2" cy="92.0" r="8.75" fill="#ff0000"/>
<circle cx="604.5" cy="43.7" r="8.75" fill="#ff0000"/>
<path d="M191.8,150.8 L191.9,153.9 L192.0,157.0 L192.1,160.1 L192.2,163.2 L192.3,166.3 L192.4,169.3 L192.6,172.4 L192.7,175.5 L192.8,178.6 L192.9,181.7 L193.0,184.8 L193.1,187.9 L193.2,191.0 L193.4,194.1 L193.5,197.2 L193.6,200.3 L193.7,203.4 L193.9,206.4 L194.0,209.5 L194.1,212.6 L194.3,215.7 L194.4,218.8 L194.5,221.9 L194.7,225.0 L194.8,228.1 L195.0,231.1 L195.1,234.2 L195.3,237.3 L195.5,240.4 L195.6,243.5 L195.8,246.6 L195.9,249.6 L196.1,252.7 L196.3,255.8 L196.5,258.9 L196.7,262.0 L196.8,265.0 L197.0,268.1 L197.2,271.2 L197.4,274.3 L197.6,277.4 L197.8,280.4 L198.0,283.5 L198.3,286.6 L198.5,289.7 L198.7,292.8 L198.9,295.8 L199.2,298.9 L199.4,302.0 L199.6,305.1 L199.9,308.1 L200.1,311.2 L200.4,314.3 L200.7,317.4 L200.9,320.4 L201.2,323.5 L201.5,326.6 L201.8,329.7 L202.1,332.7 L202.4,335.8 L202.7,338.9 L203.0,342.0 L203.3,345.0 L203.6,348.1 L203.9,351.2 L204.3,354.3 L204.6,357.3 L205.0,360.4 L205.3,363.5 L205.7,366.5 L206.0,369.6 L206.4,372.7 L206.8,375.8 L207.2,378.8 L207.6,381.9 L208.0,385.0 L208.4,388.0 L208.8,391.1 L209.2,394.2 L209.6,397.2 L210.1,400.3 L210.5,403.4 L211.0,406.4 L211.4,409.5 L211.9,412.6 L212.4,415.6 L212.9,418.7 L213.4,421.8 L213.9,424.8 L214.4,427.9 L214.9,430.9 L215.5,434.0 L216.0,437.0 L216.6,440.1 L217.2,443.1 L217.8,446.1 L218.4,449.2 L219.0,452.2 L219.6,455.3 L220.3,458.3 L220.9,461.3 L221.6,464.3 L222.3,467.3 L223.0,470.3 L223.7,473.4 L224.4,476.4 L225.1,479.4 L225.9,482.4 L226.7,485.3 L227.5,488.3 L228.3,491.3 L229.1,494.3 L229.9,497.3 L230.8,500.2 L231.6,503.2 L232.5,506.1 L233.4,509.1 L234.3,512.0 L235.3,515.0 L236.2,517.9 L237.2,520.8 L238.2,523.7 L239.2,526.6 L240.3,529.5 L241.3,532.4 L242.4,535.3 L243.5,538.2 L244.6,541.1 L245.7,543.9 L246.9,546.8 L248.1,549.6 L249.3,552.5 L250.5,555.3 L251.7,558.1 L253.1,560.9 L254.4,563.7 L255.8,566.4 L257.2,569.2 L258.7,571.9 L260.3,574.5 L262.0,577.2 L263.7,579.8 L265.5,582.3 L267.4,584.9 L269.3,587.3 L271.4,589.7 L273.5,592.1 L275.7,594.3 L278.1,596.4 L280.5,598.4 L283.0,600.2 L285.5,601.9 L288.2,603.4 L291.0,604.7 L293.8,605.8 L296.7,606.6 L299.7,607.3 L302.7,607.8 L305.8,608.1 L308.9,608.2 L312.0,608.1 L315.1,607.8 L318.1,607.4 L321.2,606.8 L324.2,606.1 L327.1,605.1 L330.0,604.1 L332.8,602.8 L335.6,601.5 L338.2,600.0 L340.9,598.4 L343.4,596.7 L345.9,594.9 L348.4,593.1 L350.9,591.1 L353.3,589.1 L355.6,587.1 L358.0,585.1 L360.3,583.0 L362.6,580.9 L364.9,578.8 L367.3,576.7 L369.5,574.7 L371.8,572.6 L374.1,570.5 L376.3,568.3 L378.4,566.1 L380.6,563.9 L382.7,561.7 L384.8,559.4 L386.8,557.1 L388.9,554.8 L390.9,552.5 L392.8,550.1 L394.8,547.7 L396.7,545.3 L398.7,542.9 L400.6,540.4 L402.4,538.0 L404.3,535.5 L406.2,533.0 L408.0,530.6 L409.9,528.1 L411.7,525.6 L413.5,523.1 L415.3,520.6 L417.1,518.1 L418.9,515.6 L420.7,513.0 L422.5,510.5 L424.3,508.0 L426.0,505.5 L427.8,502.9 L429.6,500.4 L431.3,497.8 L433.0,495.3 L434.8,492.7 L436.5,490.1 L438.2,487.6 L439.9,485.0 L441.6,482.4 L443.3,479.9 L445.0,477.3 L446.7,474.7 L448.4,472.1 L450.1,469.5 L451.7,466.9 L453.4,464.3 L455.1,461.7 L456.7,459.1 L458.4,456.5 L460.0,453.9 L461.6,451.2 L463.3,448.6 L464.9,446.0 L466.5,443.4 L468.2,440.7 L469.8,438.1 L471.4,435.5 L473.0,432.8 L474.6,430.2 L476.2,427.5 L477.8,424.9 L479.4,422.2 L481.0,419.6 L482.5,416.9 L484.1,414.3 L485.7,411.6 L487.3,409.0 L488.9,406.3 L490.4,403.6 L492.0,401.0 L493.6,398.3 L495.1,395.6 L496.7,393.0 L498.2,390.3 L499.8,387.6 L501.3,385.0 L502.9,382.3 L504.4,379.6 L506.0,376.9 L507.5,374.3 L509.1,371.6 L510.6,368.9 L512.2,366.2 L513.7,363.5 L515.3,360.9 L516.8,358.2 L518.3,355.5 L519.9,352.8 L521.4,350.1 L522.9,347.4 L524.5,344.8 L526.0,342.1 L527.6,339.4 L529.1,336.7 L530.6,334.0 L532.2,331.3 L533.7,328.7 L535.3,326.0 L536.8,323.3 L538.3,320.6 L539.9,317.9 L541.4,315.3 L543.0,312.6 L544.5,309.9 L546.0,307.2 L547.6,304.5 L549.1,301.9 L550.7,299.2 L552.2,296.5 L553.7,293.8 L555.3,291.1 L556.8,288.5 L558.4,285.8 L559.9,283.1 L561.5,280.4 L563.0,277.8 L564.5,275.1 L566.1,272.4 L567.6,269.7 L569.2,267.0 L570.7,264.4 L572.3,261.7 L573.8,259.0 L575.4,256.4 L576.9,253.7 L578.5,251.0 L580.0,248.3 L581.6,245.7 L583.1,243.0 L584.7,240.3 L586.3,237.6 L587.8,235.0 L589.4,232.3 L590.9,229.6 L592.5,227.0 L594.0,224.3 L595.6,221.6 L597.2,219.0 L598.7,216.3 L600.3,213.6 L601.8,211.0 L603.4,208.3 L605.0,205.6 L606.5,203.0 L608.1,200.3 L609.7,197.7 L611.2,195.0 L612.8,192.3 L614.4,189.7 L616.0,187.0 L617.5,184.4 L619.1,181.7 L620.7,179.0 L622.3,176.4 L623.8,173.7 L625.4,171.1 L627.0,168.4 L628.6,165.8 L630.2,163.1 L631.7,160.5 L633.3,157.8 L634.9,155.2 L636.5,152.5 L638.1,149.9 L639.7,147.2 L641.3,144.6 L642.9,141.9 L644.5,139.3 L646.1,136.6 L647.7,134.0 L649.3,131.3 L650.9,128.7 L652.5,126.0 L654.1,123.4 L655.7,120.8 L657.3,118.1 L658.9,115.5 L660.5,112.8 L662.1,110.2 L663.7,107.6 L665.3,104.9 L666.9,102.3 L668.6,99.7 L670.2,97.0 L671.8,94.4 L673.4,91.8 L675.0,89.1 L676.7,86.5 L678.3,83.9 L679.9,81.3 L681.6,78.6 L683.2,76.0 L684.8,73.4 L686.5,70.8 L688.1,68.1 L689.7,65.5 L691.4,62.9 L693.0,60.3 L694.7,57.7 L696.3,55.1 L698.0,52.4 L699.6,49.8 L701.3,47.2 L702.9,44.6 L704.6,42.0 L706.2,39.4 L707.9,36.8 L709.6,34.2 L711.2,31.6 L712.9,29.0 L714.6,26.4 L716.2,23.8 L717.9,21.2 L719.6,18.6 L721.3,16.0 L722.9,13.4 L724.6,10.8" fill="none" stroke="#008000" stroke-width="3.35" stroke-linejoin="round" clip-path="url(#ax)"/>
<path d="M192.3,154.3 L199.7,169.1 L184.9,169.1 Z" fill="#008000" stroke="#008000" stroke-width="2.4" stroke-linejoin="round"/>
<path d="M194.8,211.0 L202.2,225.8 L187.4,225.8 Z" fill="#008000" stroke="#008000" stroke-width="2.4" stroke-linejoin="round"/>
<path d="M197.3,266.0 L204.7,280.8 L189.9,280.8 Z" fill="#008000" stroke="#008000" stroke-width="2.4" stroke-linejoin="round"/>
<path d="M201.7,321.3 L209.1,336.1 L194.3,336.1 Z" fill="#008000" stroke="#008000" stroke-width="2.4" stroke-linejoin="round"/>
<path d="M208.2,376.6 L215.6,391.4 L200.8,391.4 Z" fill="#008000" stroke="#008000" stroke-width="2.4" stroke-linejoin="round"/>
<path d="M217.1,431.4 L224.5,446.2 L209.7,446.2 Z" fill="#008000" stroke="#008000" stroke-width="2.4" stroke-linejoin="round"/>
<path d="M229.4,486.1 L236.8,500.9 L222.0,500.9 Z" fill="#008000" stroke="#008000" stroke-width="2.4" stroke-linejoin="round"/>
<path d="M247.2,538.7 L254.6,553.5 L239.8,553.5 Z" fill="#008000" stroke="#008000" stroke-width="2.4" stroke-linejoin="round"/>
<path d="M276.8,585.5 L284.2,600.3 L269.4,600.3 Z" fill="#008000" stroke="#008000" stroke-width="2.4" stroke-linejoin="round"/>
<path d="M328.8,595.0 L336.2,609.8 L321.4,609.8 Z" fill="#008000" stroke="#008000" stroke-width="2.4" stroke-linejoin="round"/>
<path d="M373.4,561.7 L380.8,576.5 L366.0,576.5 Z" fill="#008000" stroke="#008000" stroke-width="2.4" stroke-linejoin="round"/>
<path d="M409.5,519.8 L416.9,534.6 L402.1,534.6 Z" fill="#008000" stroke="#008000" stroke-width="2.4" stroke-linejoin="round"/>
<path d="M440.9,473.5 L448.3,488.3 L433.5,488.3 Z" fill="#008000" stroke="#008000" stroke-width="2.4" stroke-linejoin="round"/>
<path d="M470.6,426.4 L478.0,441.2 L463.2,441.2 Z" fill="#008000" stroke="#008000" stroke-width="2.4" stroke-linejoin="round"/>
<path d="M499.6,378.5 L507.0,393.3 L492.2,393.3 Z" fill="#008000" stroke="#008000" stroke-width="2.4" stroke-linejoin="round"/>
<path d="M527.5,330.1 L534.9,344.9 L520.1,344.9 Z" fill="#008000" stroke="#008000" stroke-width="2.4" stroke-linejoin="round"/>
<path d="M554.9,282.1 L562.3,296.9 L547.5,296.9 Z" fill="#008000" stroke="#008000" stroke-width="2.4" stroke-linejoin="round"/>
<path d="M582.8,233.9 L590.2,248.7 L575.4,248.7 Z" fill="#008000" stroke="#008000" stroke-width="2.4" stroke-linejoin="round"/>
<path d="M611.1,185.5 L618.5,200.3 L603.7,200.3 Z" fill="#008000" stroke="#008000" stroke-width="2.4" stroke-linejoin="round"/>
<path d="M639.4,137.8 L646.8,152.6 L632.0,152.6 Z" fill="#008000" stroke="#008000" stroke-width="2.4" stroke-linejoin="round"/>
<path d="M668.3,90.3 L675.7,105.1 L660.9,105.1 Z" fill="#008000" stroke="#008000" stroke-width="2.4" stroke-linejoin="round"/>
<path d="M698.0,43.0 L705.4,57.8 L690.6,57.8 Z" fill="#008000" stroke="#008000" stroke-width="2.4" stroke-linejoin="round"/>
<text transform="translate(111.61,35.95) scale(0.9790,1)" font-size="45.30" fill="#0a0a0a" stroke="#fff" stroke-width="0.57">0.2</text>
<text transform="translate(111.64,165.52) scale(0.9647,1)" font-size="45.30" fill="#0a0a0a" stroke="#fff" stroke-width="0.57">0.0</text>
<line x1="99.00" y1="284.99" x2="110.00" y2="284.99" stroke="#0a0a0a" stroke-width="2.5" stroke-linecap="butt"/>
<text transform="translate(111.61,295.09) scale(0.9790,1)" font-size="45.30" fill="#0a0a0a" stroke="#fff" stroke-width="0.57">0.2</text>
<line x1="99.00" y1="414.56" x2="110.00" y2="414.56" stroke="#0a0a0a" stroke-width="2.5" stroke-linecap="butt"/>
<text transform="translate(111.64,424.66) scale(0.9596,1)" font-size="45.30" fill="#0a0a0a" stroke="#fff" stroke-width="0.57">0.4</text>
<line x1="99.00" y1="544.13" x2="110.00" y2="544.13" stroke="#0a0a0a" stroke-width="2.5" stroke-linecap="butt"/>
<text transform="translate(111.65,554.23) scale(0.9580,1)" font-size="45.30" fill="#0a0a0a" stroke="#fff" stroke-width="0.57">0.6</text>
<line x1="99.00" y1="673.70" x2="110.00" y2="673.70" stroke="#0a0a0a" stroke-width="2.5" stroke-linecap="butt"/>
<text transform="translate(111.64,683.80) scale(0.9647,1)" font-size="45.30" fill="#0a0a0a" stroke="#fff" stroke-width="0.57">0.8</text>
<text transform="translate(164.34,723.40) scale(0.9647,1)" font-size="45.30" fill="#0a0a0a" stroke="#fff" stroke-width="0.57">0.0</text>
<text transform="translate(335.33,723.40) scale(0.9524,1)" font-size="45.30" fill="#0a0a0a" stroke="#fff" stroke-width="0.57">0.5</text>
<text transform="translate(505.99,723.40) scale(0.9702,1)" font-size="45.30" fill="#0a0a0a" stroke="#fff" stroke-width="0.57">1.0</text>
<text transform="translate(677.01,723.40) scale(0.9573,1)" font-size="45.30" fill="#0a0a0a" stroke="#fff" stroke-width="0.57">1.5</text>
<text transform="translate(847.97,723.40) scale(0.9696,1)" font-size="45.30" fill="#0a0a0a" stroke="#fff" stroke-width="0.57">2.0</text>
<g transform="translate(447.90,789.00) scale(1.0,-1.0)" fill="none" stroke="#0a0a0a" stroke-linecap="round" stroke-linejoin="round"><path d="M0.5,15.0 C1.6,19.6 3.4,22.7 5.4,22.7 C6.5,22.7 7.0,22.0 7.0,20.6" stroke-width="1.15"/><path d="M7.0,21.0 L3.4,1.5" stroke-width="3.0" stroke-linecap="butt"/><path d="M5.3,11.0 C7.6,17.0 11.6,22.3 16.0,22.7" stroke-width="1.2"/><path d="M15.2,22.6 C19.4,23.0 21.7,20.6 21.1,16.8 L18.9,5.2 C18.3,1.9 19.3,0.6 20.8,0.5" stroke-width="2.8"/><path d="M20.4,0.5 C22.8,0.3 24.5,2.9 25.7,7.4" stroke-width="1.15"/></g>
<path d="M449.20,761.96 C451.34,757.54 453.91,756.44 456.90,758.40 C459.04,759.26 460.76,760.24 462.90,761.10 C465.89,763.06 468.46,761.96 470.60,757.54" fill="none" stroke="#0a0a0a" stroke-width="1.15" stroke-linecap="round"/>
<path d="M454.34,757.84 C457.76,758.03 462.04,761.47 465.46,761.66" fill="none" stroke="#0a0a0a" stroke-width="2.1" stroke-linecap="round"/>
<path d="M500.20,750.10 Q478.60,775.80 500.20,801.50 L500.20,801.50 Q484.00,775.80 500.20,750.10 Z" fill="#0a0a0a" stroke="#0a0a0a" stroke-width="0.9" stroke-linejoin="round"/>
<text transform="translate(504.23,789.00) scale(0.9801,1)" font-size="53.00" fill="#0a0a0a" stroke="#fff" stroke-width="0.66">10</text>
<line x1="558.50" y1="762.00" x2="581.20" y2="762.00" stroke="#0a0a0a" stroke-width="1.5" stroke-linecap="butt"/>
<text transform="translate(583.50,770.50) scale(0.9920,1)" font-size="36.00" fill="#0a0a0a" stroke="#fff" stroke-width="0.45">4</text>
<path d="M604.50,750.10 Q626.10,775.80 604.50,801.50 L604.50,801.50 Q620.70,775.80 604.50,750.10 Z" fill="#0a0a0a" stroke="#0a0a0a" stroke-width="0.9" stroke-linejoin="round"/>
<g transform="translate(60.8,549.8) rotate(-90)">
<path d="M11.40,-39.20 Q-11.40,-13.50 11.40,12.20 L11.40,12.20 Q-6.00,-13.50 11.40,-39.20 Z" fill="#0a0a0a" stroke="#0a0a0a" stroke-width="0.9" stroke-linejoin="round"/>
<g fill="none" stroke="#0a0a0a" stroke-linecap="round" stroke-linejoin="round"><path d="M41.0,-30.8 C43.6,-32.6 43.4,-35.6 40.4,-36.7 C36.4,-38.1 30.5,-37.0 26.5,-33.5 C22.4,-29.9 21.6,-25.4 24.0,-22.5 C26.0,-20.2 30.0,-19.0 34.0,-18.8" stroke-width="1.6"/><path d="M31.0,-19.5 C25.5,-19.2 19.6,-15.0 17.3,-9.5 C15.1,-3.9 18.5,0.2 25.5,0.4 C32.0,0.5 37.6,-3.0 40.1,-8.4" stroke-width="1.6"/><path d="M36.0,-37.0 C32.0,-36.6 28.5,-35.0 26.0,-32.6 C22.6,-29.3 22.0,-25.4 24.2,-22.6 C25.2,-21.4 26.8,-20.5 28.8,-19.9" stroke-width="3.6"/><path d="M25.8,-18.2 C21.8,-16.4 18.9,-13.0 17.6,-9.4 C15.6,-3.9 18.6,-0.3 24.6,0.1" stroke-width="3.8"/><circle cx="41.1" cy="-31.6" r="1.3" fill="#0a0a0a" stroke-width="0.8"/></g>
<path d="M26.90,-42.70 C28.77,-46.39 31.01,-47.32 33.63,-45.68 C35.50,-44.96 37.00,-44.14 38.87,-43.42 C41.49,-41.78 43.73,-42.70 45.60,-46.39" fill="none" stroke="#0a0a0a" stroke-width="1.15" stroke-linecap="round"/>
<path d="M31.39,-46.15 C34.38,-45.98 38.12,-43.11 41.11,-42.95" fill="none" stroke="#0a0a0a" stroke-width="2.1" stroke-linecap="round"/>
<text transform="translate(43.82,7.10) scale(0.9789,1)" font-size="38.40" font-style="italic" fill="#0a0a0a" stroke="#fff" stroke-width="0.48">D</text>
<line x1="77.60" y1="12.20" x2="95.40" y2="-39.20" stroke="#0a0a0a" stroke-width="1.7" stroke-linecap="butt"/>
<g transform="translate(100.50,0.00) scale(1.0,-1.0)" fill="none" stroke="#0a0a0a" stroke-linecap="round" stroke-linejoin="round"><path d="M0.5,15.0 C1.6,19.6 3.4,22.7 5.4,22.7 C6.5,22.7 7.0,22.0 7.0,20.6" stroke-width="1.15"/><path d="M7.0,21.0 L3.4,1.5" stroke-width="3.0" stroke-linecap="butt"/><path d="M5.3,11.0 C7.6,17.0 11.6,22.3 16.0,22.7" stroke-width="1.2"/><path d="M15.2,22.6 C19.4,23.0 21.7,20.6 21.1,16.8 L18.9,5.2 C18.3,1.9 19.3,0.6 20.8,0.5" stroke-width="2.8"/><path d="M20.4,0.5 C22.8,0.3 24.5,2.9 25.7,7.4" stroke-width="1.15"/></g>
<path d="M104.40,-29.83 C106.33,-33.88 108.65,-34.89 111.35,-33.09 C113.28,-32.30 114.82,-31.40 116.75,-30.61 C119.45,-28.81 121.77,-29.83 123.70,-33.88" fill="none" stroke="#0a0a0a" stroke-width="1.15" stroke-linecap="round"/>
<path d="M109.03,-33.61 C112.12,-33.43 115.98,-30.28 119.07,-30.10" fill="none" stroke="#0a0a0a" stroke-width="2.1" stroke-linecap="round"/>
<line x1="143.10" y1="-13.60" x2="176.10" y2="-13.60" stroke="#0a0a0a" stroke-width="1.7" stroke-linecap="butt"/>
<line x1="159.60" y1="-30.10" x2="159.60" y2="2.90" stroke="#0a0a0a" stroke-width="1.7" stroke-linecap="butt"/>
<text transform="translate(188.89,0.00) scale(0.9699,1)" font-size="50.00" font-style="italic" fill="#0a0a0a" stroke="#fff" stroke-width="0.62">ω</text>
<line x1="198.40" y1="-30.00" x2="215.50" y2="-30.00" stroke="#0a0a0a" stroke-width="1.7" stroke-linecap="butt"/>
<text transform="translate(222.93,8.15) scale(1.0934,1)" font-size="39.20" font-style="italic" fill="#0a0a0a" stroke="#fff" stroke-width="0.49">R</text>
<path d="M253.80,-39.50 Q276.20,-13.65 253.80,12.20 L253.80,12.20 Q270.80,-13.65 253.80,-39.50 Z" fill="#0a0a0a" stroke="#0a0a0a" stroke-width="0.9" stroke-linejoin="round"/>
<path d="M295.60,-39.50 Q273.00,-13.65 295.60,12.20 L295.60,12.20 Q278.40,-13.65 295.60,-39.50 Z" fill="#0a0a0a" stroke="#0a0a0a" stroke-width="0.9" stroke-linejoin="round"/>
<text transform="translate(298.57,0.00) scale(0.9520,1)" font-size="53.00" fill="#0a0a0a" stroke="#fff" stroke-width="0.66">10</text>
<line x1="352.10" y1="-28.20" x2="373.90" y2="-28.20" stroke="#0a0a0a" stroke-width="1.6" stroke-linecap="butt"/>
<text transform="translate(376.18,-18.30) scale(0.9863,1)" font-size="37.00" fill="#0a0a0a" stroke="#fff" stroke-width="0.46">5</text>
<path d="M398.00,-39.50 Q421.20,-13.65 398.00,12.20 L398.00,12.20 Q415.80,-13.65 398.00,-39.50 Z" fill="#0a0a0a" stroke="#0a0a0a" stroke-width="0.9" stroke-linejoin="round"/>
</g>
<line x1="709.90" y1="150.80" x2="709.90" y2="185.80" stroke="#0a0a0a" stroke-width="1.5" stroke-linecap="butt"/>
<text transform="translate(715.12,177.70) scale(0.8709,1)" font-size="34.00" font-style="italic" fill="#0a0a0a" stroke="#fff" stroke-width="0.43">ϵ</text>
<line x1="734.40" y1="150.80" x2="734.40" y2="185.80" stroke="#0a0a0a" stroke-width="1.5" stroke-linecap="butt"/>
<line x1="750.50" y1="165.35" x2="774.10" y2="165.35" stroke="#0a0a0a" stroke-width="1.5" stroke-linecap="butt"/>
<line x1="750.50" y1="172.15" x2="774.10" y2="172.15" stroke="#0a0a0a" stroke-width="1.5" stroke-linecap="butt"/>
<text transform="translate(786.07,177.75) scale(1.0033,1)" font-size="36.60" fill="#0a0a0a" stroke="#fff" stroke-width="0.46">1.05</text>
<g transform="translate(705.60,239.20)" fill="none" stroke="#0a0a0a" stroke-linecap="round" stroke-linejoin="round"><path d="M0.3,-9.4 C1.6,-13.6 4.0,-15.4 6.4,-15.4 C9.4,-15.4 10.9,-9.5 11.5,0.2" stroke-width="2.0"/><path d="M18.2,-15.2 C16.6,-10.2 13.4,-3.6 11.6,1.2" stroke-width="1.2"/><path d="M11.6,0.4 L10.3,6.9" stroke-width="1.9"/></g>
<text transform="translate(723.06,243.60) scale(1.1764,1)" font-size="24.60" fill="#0a0a0a" stroke="#fff" stroke-width="0.31">12</text>
<line x1="765.40" y1="226.60" x2="788.90" y2="226.60" stroke="#0a0a0a" stroke-width="1.5" stroke-linecap="butt"/>
<line x1="765.40" y1="233.40" x2="788.90" y2="233.40" stroke="#0a0a0a" stroke-width="1.5" stroke-linecap="butt"/>
<text transform="translate(802.28,239.20) scale(0.9475,1)" font-size="36.60" fill="#0a0a0a" stroke="#fff" stroke-width="0.46">9</text>
<g transform="translate(705.60,303.90)" fill="none" stroke="#0a0a0a" stroke-linecap="round" stroke-linejoin="round"><path d="M0.3,-9.4 C1.6,-13.6 4.0,-15.4 6.4,-15.4 C9.4,-15.4 10.9,-9.5 11.5,0.2" stroke-width="2.0"/><path d="M18.2,-15.2 C16.6,-10.2 13.4,-3.6 11.6,1.2" stroke-width="1.2"/><path d="M11.6,0.4 L10.3,6.9" stroke-width="1.9"/></g>
<line x1="736.90" y1="291.30" x2="760.80" y2="291.30" stroke="#0a0a0a" stroke-width="1.5" stroke-linecap="butt"/>
<line x1="736.90" y1="298.10" x2="760.80" y2="298.10" stroke="#0a0a0a" stroke-width="1.5" stroke-linecap="butt"/>
<text transform="translate(772.79,303.90) scale(0.9593,1)" font-size="36.60" fill="#0a0a0a" stroke="#fff" stroke-width="0.46">6</text>
<line x1="507.30" y1="457.60" x2="577.10" y2="457.60" stroke="#000000" stroke-width="3.35" stroke-linecap="butt"/>
<line x1="507.30" y1="504.00" x2="577.10" y2="504.00" stroke="#0000ff" stroke-width="3.35" stroke-linecap="butt"/>
<line x1="507.30" y1="549.60" x2="577.10" y2="549.60" stroke="#ff0000" stroke-width="3.35" stroke-linecap="butt"/>
<line x1="507.30" y1="596.20" x2="577.10" y2="596.20" stroke="#008000" stroke-width="3.35" stroke-linecap="butt"/>
<path d="M542.3,494.8 L551.5,504.0 L542.3,513.2 L533.1,504.0 Z" fill="#0000ff" stroke="#0000ff" stroke-width="2.2" stroke-linejoin="round"/>
<circle cx="542.3" cy="549.6" r="8.8" fill="#ff0000"/>
<path d="M542.3,586.6 L549.7,601.4 L534.9,601.4 Z" fill="#008000" stroke="#008000" stroke-width="2.4" stroke-linejoin="round"/>
<text transform="translate(593.62,470.00) scale(1.0585,1)" font-size="33.50" font-style="italic" fill="#0a0a0a" stroke="#fff" stroke-width="0.42">ω</text>
<line x1="600.10" y1="449.40" x2="613.00" y2="449.40" stroke="#0a0a0a" stroke-width="1.5" stroke-linecap="butt"/>
<text transform="translate(619.67,475.10) scale(1.2860,1)" font-size="24.90" font-style="italic" fill="#0a0a0a" stroke="#fff" stroke-width="0.31">R</text>
<line x1="652.60" y1="457.60" x2="676.20" y2="457.60" stroke="#0a0a0a" stroke-width="1.5" stroke-linecap="butt"/>
<line x1="652.60" y1="464.40" x2="676.20" y2="464.40" stroke="#0a0a0a" stroke-width="1.5" stroke-linecap="butt"/>
<text transform="translate(687.87,470.00) scale(1.0250,1)" font-size="36.60" fill="#0a0a0a" stroke="#fff" stroke-width="0.46">0</text>
<text transform="translate(593.62,516.10) scale(1.0585,1)" font-size="33.50" font-style="italic" fill="#0a0a0a" stroke="#fff" stroke-width="0.42">ω</text>
<line x1="600.10" y1="495.50" x2="613.00" y2="495.50" stroke="#0a0a0a" stroke-width="1.5" stroke-linecap="butt"/>
<text transform="translate(619.67,521.20) scale(1.2860,1)" font-size="24.90" font-style="italic" fill="#0a0a0a" stroke="#fff" stroke-width="0.31">R</text>
<line x1="652.60" y1="503.70" x2="676.20" y2="503.70" stroke="#0a0a0a" stroke-width="1.5" stroke-linecap="butt"/>
<line x1="652.60" y1="510.50" x2="676.20" y2="510.50" stroke="#0a0a0a" stroke-width="1.5" stroke-linecap="butt"/>
<text transform="translate(687.64,516.10) scale(1.0348,1)" font-size="36.60" fill="#0a0a0a" stroke="#fff" stroke-width="0.46">2.5</text>
<line x1="747.40" y1="498.40" x2="764.40" y2="515.40" stroke="#0a0a0a" stroke-width="1.5" stroke-linecap="butt"/>
<line x1="747.40" y1="515.40" x2="764.40" y2="498.40" stroke="#0a0a0a" stroke-width="1.5" stroke-linecap="butt"/>
<text transform="translate(777.22,516.10) scale(0.9878,1)" font-size="36.60" fill="#0a0a0a" stroke="#fff" stroke-width="0.46">10</text>
<line x1="816.80" y1="495.60" x2="833.20" y2="495.60" stroke="#0a0a0a" stroke-width="1.4" stroke-linecap="butt"/>
<text transform="translate(835.67,503.10) scale(1.1514,1)" font-size="24.80" fill="#0a0a0a" stroke="#fff" stroke-width="0.31">6</text>
<text transform="translate(593.62,561.70) scale(1.0585,1)" font-size="33.50" font-style="italic" fill="#0a0a0a" stroke="#fff" stroke-width="0.42">ω</text>
<line x1="600.10" y1="541.10" x2="613.00" y2="541.10" stroke="#0a0a0a" stroke-width="1.5" stroke-linecap="butt"/>
<text transform="translate(619.67,566.80) scale(1.2860,1)" font-size="24.90" font-style="italic" fill="#0a0a0a" stroke="#fff" stroke-width="0.31">R</text>
<line x1="652.60" y1="549.30" x2="676.20" y2="549.30" stroke="#0a0a0a" stroke-width="1.5" stroke-linecap="butt"/>
<line x1="652.60" y1="556.10" x2="676.20" y2="556.10" stroke="#0a0a0a" stroke-width="1.5" stroke-linecap="butt"/>
<text transform="translate(688.58,561.70) scale(1.0136,1)" font-size="36.60" fill="#0a0a0a" stroke="#fff" stroke-width="0.46">4.3</text>
<line x1="747.40" y1="544.00" x2="764.40" y2="561.00" stroke="#0a0a0a" stroke-width="1.5" stroke-linecap="butt"/>
<line x1="747.40" y1="561.00" x2="764.40" y2="544.00" stroke="#0a0a0a" stroke-width="1.5" stroke-linecap="butt"/>
<text transform="translate(777.22,561.70) scale(0.9878,1)" font-size="36.60" fill="#0a0a0a" stroke="#fff" stroke-width="0.46">10</text>
<line x1="816.80" y1="541.20" x2="833.20" y2="541.20" stroke="#0a0a0a" stroke-width="1.4" stroke-linecap="butt"/>
<text transform="translate(835.67,548.70) scale(1.1514,1)" font-size="24.80" fill="#0a0a0a" stroke="#fff" stroke-width="0.31">6</text>
<text transform="translate(593.62,608.00) scale(1.0585,1)" font-size="33.50" font-style="italic" fill="#0a0a0a" stroke="#fff" stroke-width="0.42">ω</text>
<line x1="600.10" y1="587.40" x2="613.00" y2="587.40" stroke="#0a0a0a" stroke-width="1.5" stroke-linecap="butt"/>
<text transform="translate(619.67,613.10) scale(1.2860,1)" font-size="24.90" font-style="italic" fill="#0a0a0a" stroke="#fff" stroke-width="0.31">R</text>
<line x1="652.60" y1="595.60" x2="676.20" y2="595.60" stroke="#0a0a0a" stroke-width="1.5" stroke-linecap="butt"/>
<line x1="652.60" y1="602.40" x2="676.20" y2="602.40" stroke="#0a0a0a" stroke-width="1.5" stroke-linecap="butt"/>
<text transform="translate(687.68,608.00) scale(1.0331,1)" font-size="36.60" fill="#0a0a0a" stroke="#fff" stroke-width="0.46">6.0</text>
<line x1="747.40" y1="590.30" x2="764.40" y2="607.30" stroke="#0a0a0a" stroke-width="1.5" stroke-linecap="butt"/>
<line x1="747.40" y1="607.30" x2="764.40" y2="590.30" stroke="#0a0a0a" stroke-width="1.5" stroke-linecap="butt"/>
<text transform="translate(777.22,608.00) scale(0.9878,1)" font-size="36.60" fill="#0a0a0a" stroke="#fff" stroke-width="0.46">10</text>
<line x1="816.80" y1="587.50" x2="833.20" y2="587.50" stroke="#0a0a0a" stroke-width="1.4" stroke-linecap="butt"/>
<text transform="translate(835.67,595.00) scale(1.1514,1)" font-size="24.80" fill="#0a0a0a" stroke="#fff" stroke-width="0.31">6</text>
</svg>
</body></html>
